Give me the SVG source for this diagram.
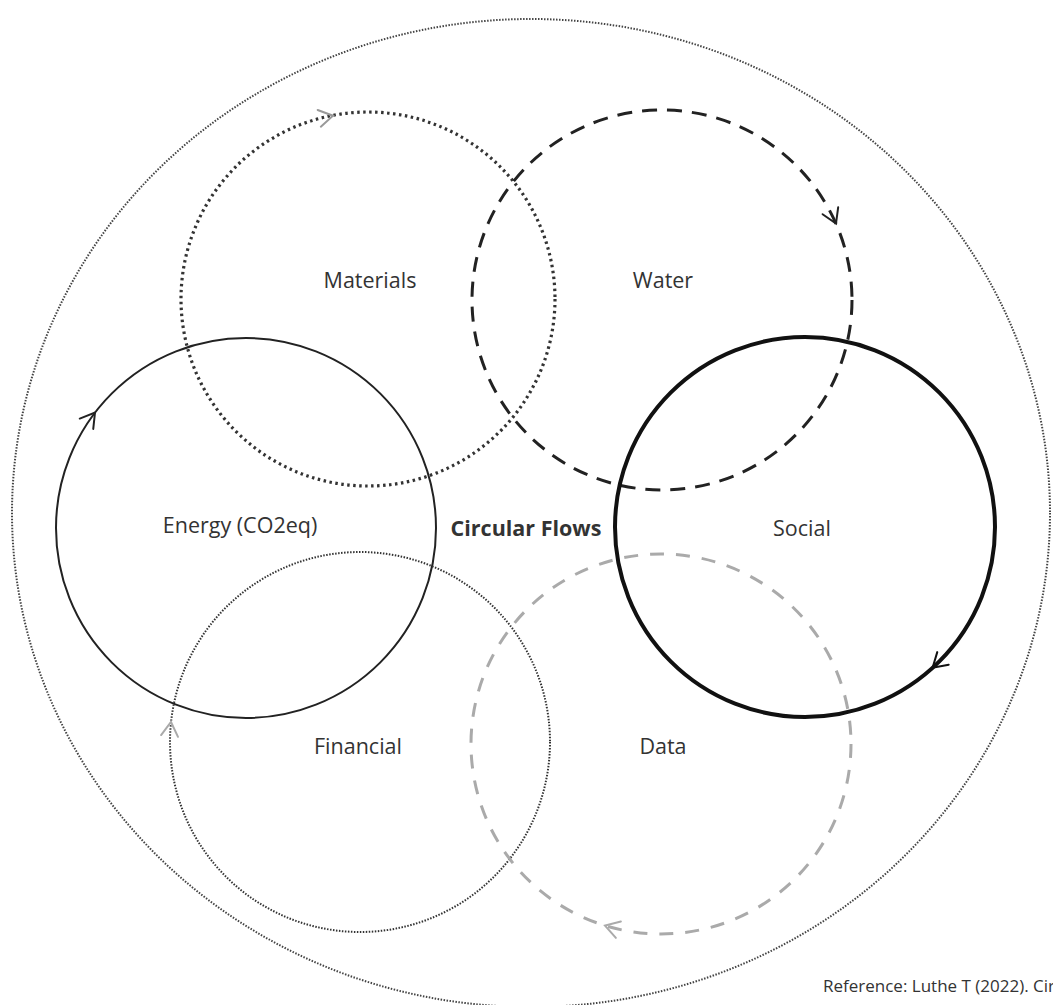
<svg xmlns="http://www.w3.org/2000/svg" width="1053" height="1005" viewBox="0 0 1053 1005">
<defs>
<style>
.lbl{font-family:"Open Sans","Noto Sans","Liberation Sans",sans-serif;font-size:21.5px;fill:#333;text-anchor:middle;dominant-baseline:central}
.ring{fill:none}
.arr{fill:none;stroke-width:2;stroke-linecap:round;stroke-linejoin:miter}
</style>
<path id="chev" d="M-14,-8.5 L0,0 L-14,8.5"/>
</defs>
<rect width="1053" height="1005" fill="#fff"/>
<g id="outer">
<ellipse cx="531" cy="513" rx="519" ry="494" class="ring" stroke="#444" stroke-width="2" stroke-dasharray="1.5 1.5"/>
</g>
<g id="materials">
<circle cx="368" cy="299" r="187" class="ring" stroke="#333" stroke-width="3.2" stroke-dasharray="2.5 3.5"/>
<text x="370" y="279" class="lbl">Materials</text>
</g>
<g id="water">
<circle cx="662" cy="300" r="190" class="ring" stroke="#222" stroke-width="3" stroke-dasharray="15 10"/>
<text x="663" y="279" class="lbl">Water</text>
</g>
<g id="energy">
<circle cx="246" cy="528" r="190" class="ring" stroke="#222" stroke-width="2"/>
<text x="240" y="524" class="lbl">Energy (CO2eq)</text>
</g>
<g id="social">
<circle cx="805" cy="527" r="190" class="ring" stroke="#111" stroke-width="4"/>
<text x="802" y="527" class="lbl">Social</text>
</g>
<g id="financial">
<circle cx="360" cy="742" r="190" class="ring" stroke="#333" stroke-width="2" stroke-dasharray="1.5 1.5"/>
<text x="358" y="745" class="lbl">Financial</text>
</g>
<g id="data">
<circle cx="661" cy="744" r="190" class="ring" stroke="#aaa" stroke-width="3" stroke-dasharray="14 12"/>
<text x="663" y="745" class="lbl">Data</text>
</g>
<g id="center">
<text x="526" y="527" class="lbl" style="font-weight:bold">Circular Flows</text>
</g>
<g id="connectors">
<use href="#chev" class="arr" stroke="#999" transform="translate(333,115.7) rotate(-10.8)"/>
<use href="#chev" class="arr" stroke="#222" transform="translate(836,223.6) rotate(66.3)"/>
<use href="#chev" class="arr" stroke="#222" transform="translate(95,412.6) rotate(-52.6)"/>
<use href="#chev" class="arr" stroke="#111" transform="translate(932.6,667.8) rotate(137.8)"/>
<use href="#chev" class="arr" stroke="#aaa" transform="translate(171,722) rotate(-84)"/>
<use href="#chev" class="arr" stroke="#aaa" transform="translate(605,925.6) rotate(197.1)"/>
</g>
<text x="823" y="992" style="font-family:'Open Sans','Noto Sans','Liberation Sans',sans-serif;font-size:17px;fill:#333">Reference: Luthe T (2022). Cir</text>
</svg>
